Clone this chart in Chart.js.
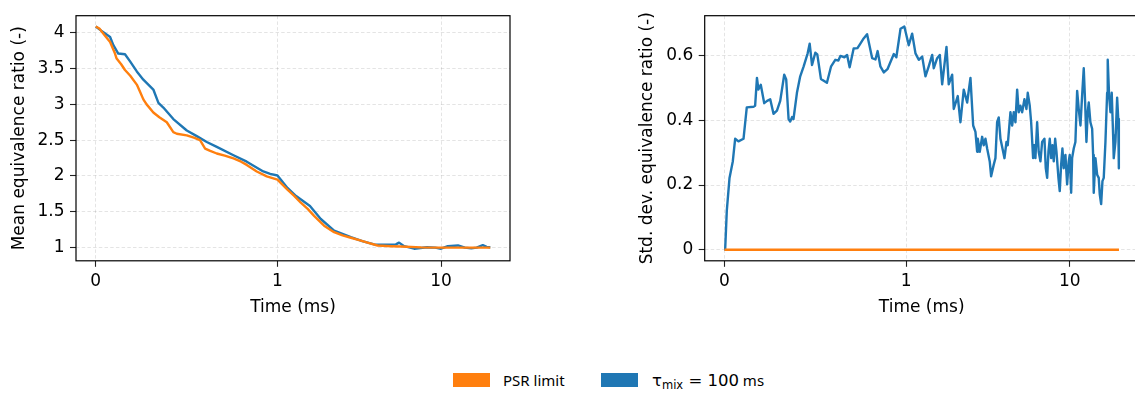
<!DOCTYPE html>
<html>
<head>
<meta charset="utf-8">
<script src="https://cdn.jsdelivr.net/npm/chart.js@4/dist/chart.umd.min.js"></script>
<style>
  html, body { margin: 0; padding: 0; background: #fff; overflow: hidden; }
  #wrap { position: relative; width: 1135px; height: 396px; overflow: hidden; background: #fff; }
  #wrap canvas { position: absolute; top: 0; }
  #meanChart { left: 0; }
  #stdChart { left: 620px; }
  .lg-swatch { position: absolute; top: 373.3px; width: 37px; height: 14px; }
  .lg-text { position: absolute; top: 370px; height: 21px; line-height: 21px; white-space: nowrap;
             font-family: 'Noto Sans', sans-serif; font-size: 15px; color: #000; }
  .lg-math { font-family: 'DejaVu Sans', sans-serif; font-size: 16.5px; }
  .lg-math sub { font-size: 11.5px; vertical-align: -3px; line-height: 0; }
</style>
</head>
<body>
<div id="wrap">
  <canvas id="meanChart" width="520" height="330"></canvas>
  <canvas id="stdChart" width="530" height="330"></canvas>
  <div id="legend"></div>
</div>
<script>
// ---- data (time in ms) ----
const TIME_TICKS = [0, 1, 10];
const MEAN_TICKS = [1, 1.5, 2, 2.5, 3, 3.5, 4];
const STD_TICKS = [0, 0.2, 0.4, 0.6];

// PSR limit, mean equivalence ratio
const psrMeanTime = [0, 0.02, 0.05, 0.079, 0.106, 0.115, 0.14, 0.161, 0.19, 0.226, 0.245, 0.262, 0.28,
  0.317, 0.35, 0.391, 0.427, 0.446, 0.501, 0.54, 0.574, 0.602, 0.63, 0.666, 0.71, 0.758, 0.8, 0.831,
  0.886, 0.941, 1.0, 1.151, 1.27, 1.389, 1.53, 1.675, 1.928, 2.22, 2.5, 2.81, 3.2, 3.55, 4.09, 5.0,
  5.68, 7.53, 10, 14, 20];
const psrMean = [4.087, 4.06, 3.96, 3.87, 3.71, 3.64, 3.56, 3.48, 3.40, 3.276, 3.17, 3.07, 3.0,
  2.887, 2.82, 2.75, 2.612, 2.59, 2.567, 2.535, 2.50, 2.383, 2.35, 2.314, 2.285, 2.245, 2.20, 2.155,
  2.063, 1.994, 1.948, 1.81, 1.72, 1.627, 1.54, 1.444, 1.307, 1.215, 1.17, 1.138, 1.10, 1.069, 1.03, 1.02,
  1.016, 1.003, 1.0, 1.0, 1.0];

// tau_mix = 100 ms, mean equivalence ratio
const mixMeanTime = [0, 0.03, 0.079, 0.097, 0.124, 0.161, 0.189, 0.226, 0.262, 0.317, 0.345, 0.372,
  0.427, 0.501, 0.556, 0.611, 0.666, 0.758, 0.831, 0.922, 0.96, 1.0, 1.151, 1.3, 1.58, 1.84, 2.22, 2.81,
  3.3, 3.9, 4.98, 5.3, 5.54, 5.95, 6.85, 8.2, 9.2, 10, 11, 12.7, 14, 15.3, 16.5, 18, 19, 20];
const mixMean = [4.087, 4.03, 3.94, 3.826, 3.71, 3.70, 3.60, 3.46, 3.345, 3.207, 3.02, 2.956,
  2.795, 2.635, 2.557, 2.475, 2.406, 2.29, 2.20, 2.063, 2.03, 2.007, 1.833, 1.72, 1.58, 1.40, 1.238, 1.146,
  1.09, 1.046, 1.04, 1.045, 1.07, 1.02, 0.985, 1.005, 1.0, 0.985, 1.02, 1.03, 1.0, 0.99, 1.0, 1.035, 1.01, 1.005];

// PSR limit, standard deviation (perfectly mixed)
const psrStdTime = [0, 20];
const psrStd = [0, 0];

// tau_mix = 100 ms, standard deviation
const mixStdTime = [0, 0.004, 0.013, 0.028, 0.046, 0.059, 0.077, 0.105, 0.123, 0.16,
  0.169, 0.179, 0.187, 0.2, 0.219, 0.235, 0.252, 0.27, 0.289, 0.307,
  0.329, 0.34, 0.353, 0.362, 0.372, 0.38, 0.399, 0.417, 0.436, 0.458,
  0.469, 0.482, 0.5, 0.511, 0.531, 0.564, 0.587, 0.61, 0.627, 0.638,
  0.66, 0.675, 0.689, 0.711, 0.732, 0.748, 0.766, 0.785, 0.813, 0.831,
  0.843, 0.858, 0.877, 0.897, 0.932, 0.946, 0.969, 0.99, 1.037, 1.088,
  1.14, 1.194, 1.253, 1.312, 1.374, 1.442, 1.475, 1.547, 1.605, 1.66,
  1.764, 1.821, 1.911, 1.954, 2.067, 2.147, 2.249, 2.36, 2.472,
  2.568, 2.652, 2.716, 2.74, 2.818, 2.914, 2.981, 3.053, 3.127, 3.243,
  3.307, 3.431, 3.514, 3.598, 3.681, 3.771, 3.917, 3.99, 4.104, 4.178,
  4.34, 4.445, 4.547, 4.657, 4.77, 4.879, 4.995, 5.117, 5.285, 5.437,
  5.538, 5.695, 5.809, 5.973, 6.084, 6.17, 6.32, 6.46, 6.62, 6.78,
  7.006, 7.135, 7.277, 7.411, 7.548, 7.699, 7.842, 7.986, 8.146, 8.295,
  8.53, 8.688, 8.86, 9.023, 9.19, 9.412, 9.64, 9.86, 10.0, 10.2,
  10.34, 10.58, 10.83, 11.1, 11.35, 11.63, 11.9, 12.18, 12.42, 12.65,
  12.88, 13.07, 13.38, 13.71, 13.9, 14.02, 14.36, 14.71, 15.04, 15.26,
  15.56, 15.85, 16.14, 16.53, 16.93, 17.07, 17.41, 17.74, 18.06, 18.42,
  18.58, 19.03, 19.49, 19.8, 19.93, 20.0];
const mixStd = [0, 0.0, 0.12, 0.222, 0.273, 0.343, 0.335, 0.343, 0.44, 0.442,
  0.445, 0.531, 0.495, 0.51, 0.453, 0.46, 0.465, 0.42, 0.43, 0.46,
  0.541, 0.526, 0.404, 0.396, 0.41, 0.404, 0.485, 0.536, 0.567, 0.607,
  0.637, 0.571, 0.609, 0.604, 0.528, 0.516, 0.567, 0.587, 0.585, 0.599,
  0.595, 0.602, 0.564, 0.622, 0.623, 0.637, 0.653, 0.666, 0.592, 0.588,
  0.614, 0.567, 0.548, 0.558, 0.605, 0.595, 0.683, 0.69, 0.632, 0.668,
  0.607, 0.587, 0.597, 0.536, 0.567, 0.602, 0.561, 0.592, 0.602, 0.511,
  0.627, 0.511, 0.541, 0.435, 0.475, 0.394, 0.495, 0.455, 0.531,
  0.384, 0.364, 0.303, 0.343, 0.303, 0.349, 0.323, 0.343, 0.313, 0.273,
  0.227, 0.263, 0.283, 0.394, 0.409, 0.343, 0.303, 0.283, 0.333, 0.323,
  0.425, 0.384, 0.425, 0.394, 0.495, 0.425, 0.445, 0.425, 0.465, 0.435,
  0.485, 0.445, 0.394, 0.283, 0.323, 0.283, 0.394, 0.303, 0.273, 0.333,
  0.343, 0.252, 0.222, 0.303, 0.343, 0.283, 0.323, 0.273, 0.343, 0.303,
  0.222, 0.181, 0.263, 0.313, 0.252, 0.293, 0.202, 0.273, 0.293, 0.176,
  0.283, 0.313, 0.333, 0.491, 0.435, 0.384, 0.475, 0.561, 0.455, 0.333,
  0.425, 0.455, 0.394, 0.374, 0.293, 0.176, 0.283, 0.232, 0.222, 0.171,
  0.141, 0.212, 0.222, 0.333, 0.485, 0.587, 0.475, 0.425, 0.485, 0.354,
  0.283, 0.333, 0.47, 0.404, 0.252, 0.323];

const ORANGE = '#ff7f0e';
const BLUE = '#1f77b4';
const SERIES = [
  { label: 'PSR limit', color: ORANGE },
  { label: 'τ<sub>mix</sub> = 100', unit: ' ms', color: BLUE, math: true }
];

// ---- symmetric log time axis: linear up to 1 ms, log10 beyond ----
const LIN_THRESH = 1;
const LIN_SCALE = 1 / (1 - 1 / 10);
function symlog(v) {
  const a = Math.abs(v);
  if (a <= LIN_THRESH) return v * LIN_SCALE;
  return Math.sign(v) * LIN_THRESH * (LIN_SCALE + Math.log10(a / LIN_THRESH));
}
function symexp(u) {
  const a = Math.abs(u);
  if (a <= LIN_THRESH * LIN_SCALE) return u / LIN_SCALE;
  return Math.sign(u) * LIN_THRESH * Math.pow(10, a / LIN_THRESH - LIN_SCALE);
}

const BaseLinear = Chart.LinearScale || Chart.registry.getScale('linear');
class SymlogScale extends BaseLinear {
  buildTicks() {
    return TIME_TICKS.map(value => ({ value }));
  }
  configure() {
    super.configure();
    this._uMin = symlog(this.min);
    this._uMax = symlog(this.max);
  }
  getPixelForValue(value) {
    if (value === null || value === undefined || isNaN(value)) return NaN;
    return this.getPixelForDecimal((symlog(value) - this._uMin) / (this._uMax - this._uMin));
  }
  getValueForPixel(pixel) {
    return symexp(this._uMin + this.getDecimalForPixel(pixel) * (this._uMax - this._uMin));
  }
}
SymlogScale.id = 'symlog';
SymlogScale.defaults = {};
Chart.register(SymlogScale);

// 5 % margin around 0..20 ms in transformed units
const uSpan = symlog(20) - symlog(0);
const X_MIN = symexp(-0.05 * uSpan);
const X_MAX = symexp(symlog(20) + 0.05 * uSpan);

const FONT = 'DejaVu Sans';
Chart.defaults.font.family = FONT;
Chart.defaults.font.size = 17;
Chart.defaults.color = '#000';

// full box around the plotting area
const framePlugin = {
  id: 'frame',
  afterDraw(chart) {
    const { ctx, chartArea: a } = chart;
    ctx.save();
    ctx.strokeStyle = '#000';
    ctx.lineWidth = 1.2;
    ctx.strokeRect(a.left, a.top, a.right - a.left, a.bottom - a.top);
    ctx.restore();
  }
};

const pts = (xs, ys) => xs.map((x, i) => ({ x, y: ys[i] }));

function lineDataset(label, xs, ys, color) {
  return {
    label, data: pts(xs, ys), borderColor: color, backgroundColor: color,
    borderWidth: 2.4, pointRadius: 0, tension: 0, fill: false,
    borderJoinStyle: 'round', borderCapStyle: 'butt'
  };
}

function gridOpts() {
  return { color: 'rgba(0,0,0,0.12)', lineWidth: 0.9, drawTicks: true, tickLength: 6,
           tickColor: '#222', tickWidth: 1.1, tickBorderDash: [] };
}

function makeChart(canvasId, datasets, y, yTitle, yAxisWidth, yTitlePad, padRight) {
  return new Chart(document.getElementById(canvasId), {
    type: 'line',
    data: { datasets },
    options: {
      responsive: false, animation: false, devicePixelRatio: 1,
      layout: { padding: { top: 11.7, right: padRight, bottom: 0, left: 0 } },
      plugins: { legend: { display: false }, tooltip: { enabled: false } },
      scales: {
        x: {
          type: 'symlog', position: 'bottom', min: X_MIN, max: X_MAX,
          grid: gridOpts(),
          border: { display: false, dash: [3.5, 2.2] },
          ticks: { padding: 5, maxRotation: 0, autoSkip: false, color: '#000',
                   callback: v => String(v) },
          title: { display: true, text: 'Time (ms)', color: '#000', font: { size: 17 },
                   padding: { top: 0, bottom: 12.5 } },
          afterFit: s => { s.height = 330 - 260.8; }
        },
        y: {
          type: 'linear', position: 'left', min: y.min, max: y.max,
          grid: gridOpts(),
          border: { display: false, dash: [3.5, 2.2] },
          afterBuildTicks: s => { s.ticks = y.ticks.map(value => ({ value })); },
          ticks: { padding: 5.5, color: '#000', callback: v => String(v) },
          title: { display: true, text: yTitle, color: '#000', font: { size: 17 },
                   padding: { top: yTitlePad, bottom: 0 } },
          afterFit: s => { s.width = yAxisWidth; }
        }
      }
    },
    plugins: [framePlugin]
  });
}

makeChart('meanChart',
  [lineDataset('PSR limit', psrMeanTime, psrMean, ORANGE),
   lineDataset('tau_mix = 100 ms', mixMeanTime, mixMean, BLUE)],
  { min: 0.816, max: 4.238, ticks: MEAN_TICKS },
  'Mean equivalence ratio (-)', 76, 9.8, 10);

makeChart('stdChart',
  [lineDataset('PSR limit', psrStdTime, psrStd, ORANGE),
   lineDataset('tau_mix = 100 ms', mixStdTime, mixStd, BLUE)],
  { min: -0.0343, max: 0.7234, ticks: STD_TICKS },
  'Std. dev. equivalence ratio (-)', 84.7, 17.5, 11.3);

// shared legend below both panels
const LEGEND_X = [{ swatch: 453, text: 503 }, { swatch: 601, text: 652 }];
const legend = document.getElementById('legend');
SERIES.forEach((s, i) => {
  const sw = document.createElement('div');
  sw.className = 'lg-swatch';
  sw.style.left = LEGEND_X[i].swatch + 'px';
  sw.style.background = s.color;
  legend.appendChild(sw);
  const tx = document.createElement('div');
  tx.className = 'lg-text';
  tx.style.left = LEGEND_X[i].text + 'px';
  tx.innerHTML = s.math ? '<span class="lg-math">' + s.label + '</span>' + s.unit : s.label;
  legend.appendChild(tx);
});
</script>
</body>
</html>
